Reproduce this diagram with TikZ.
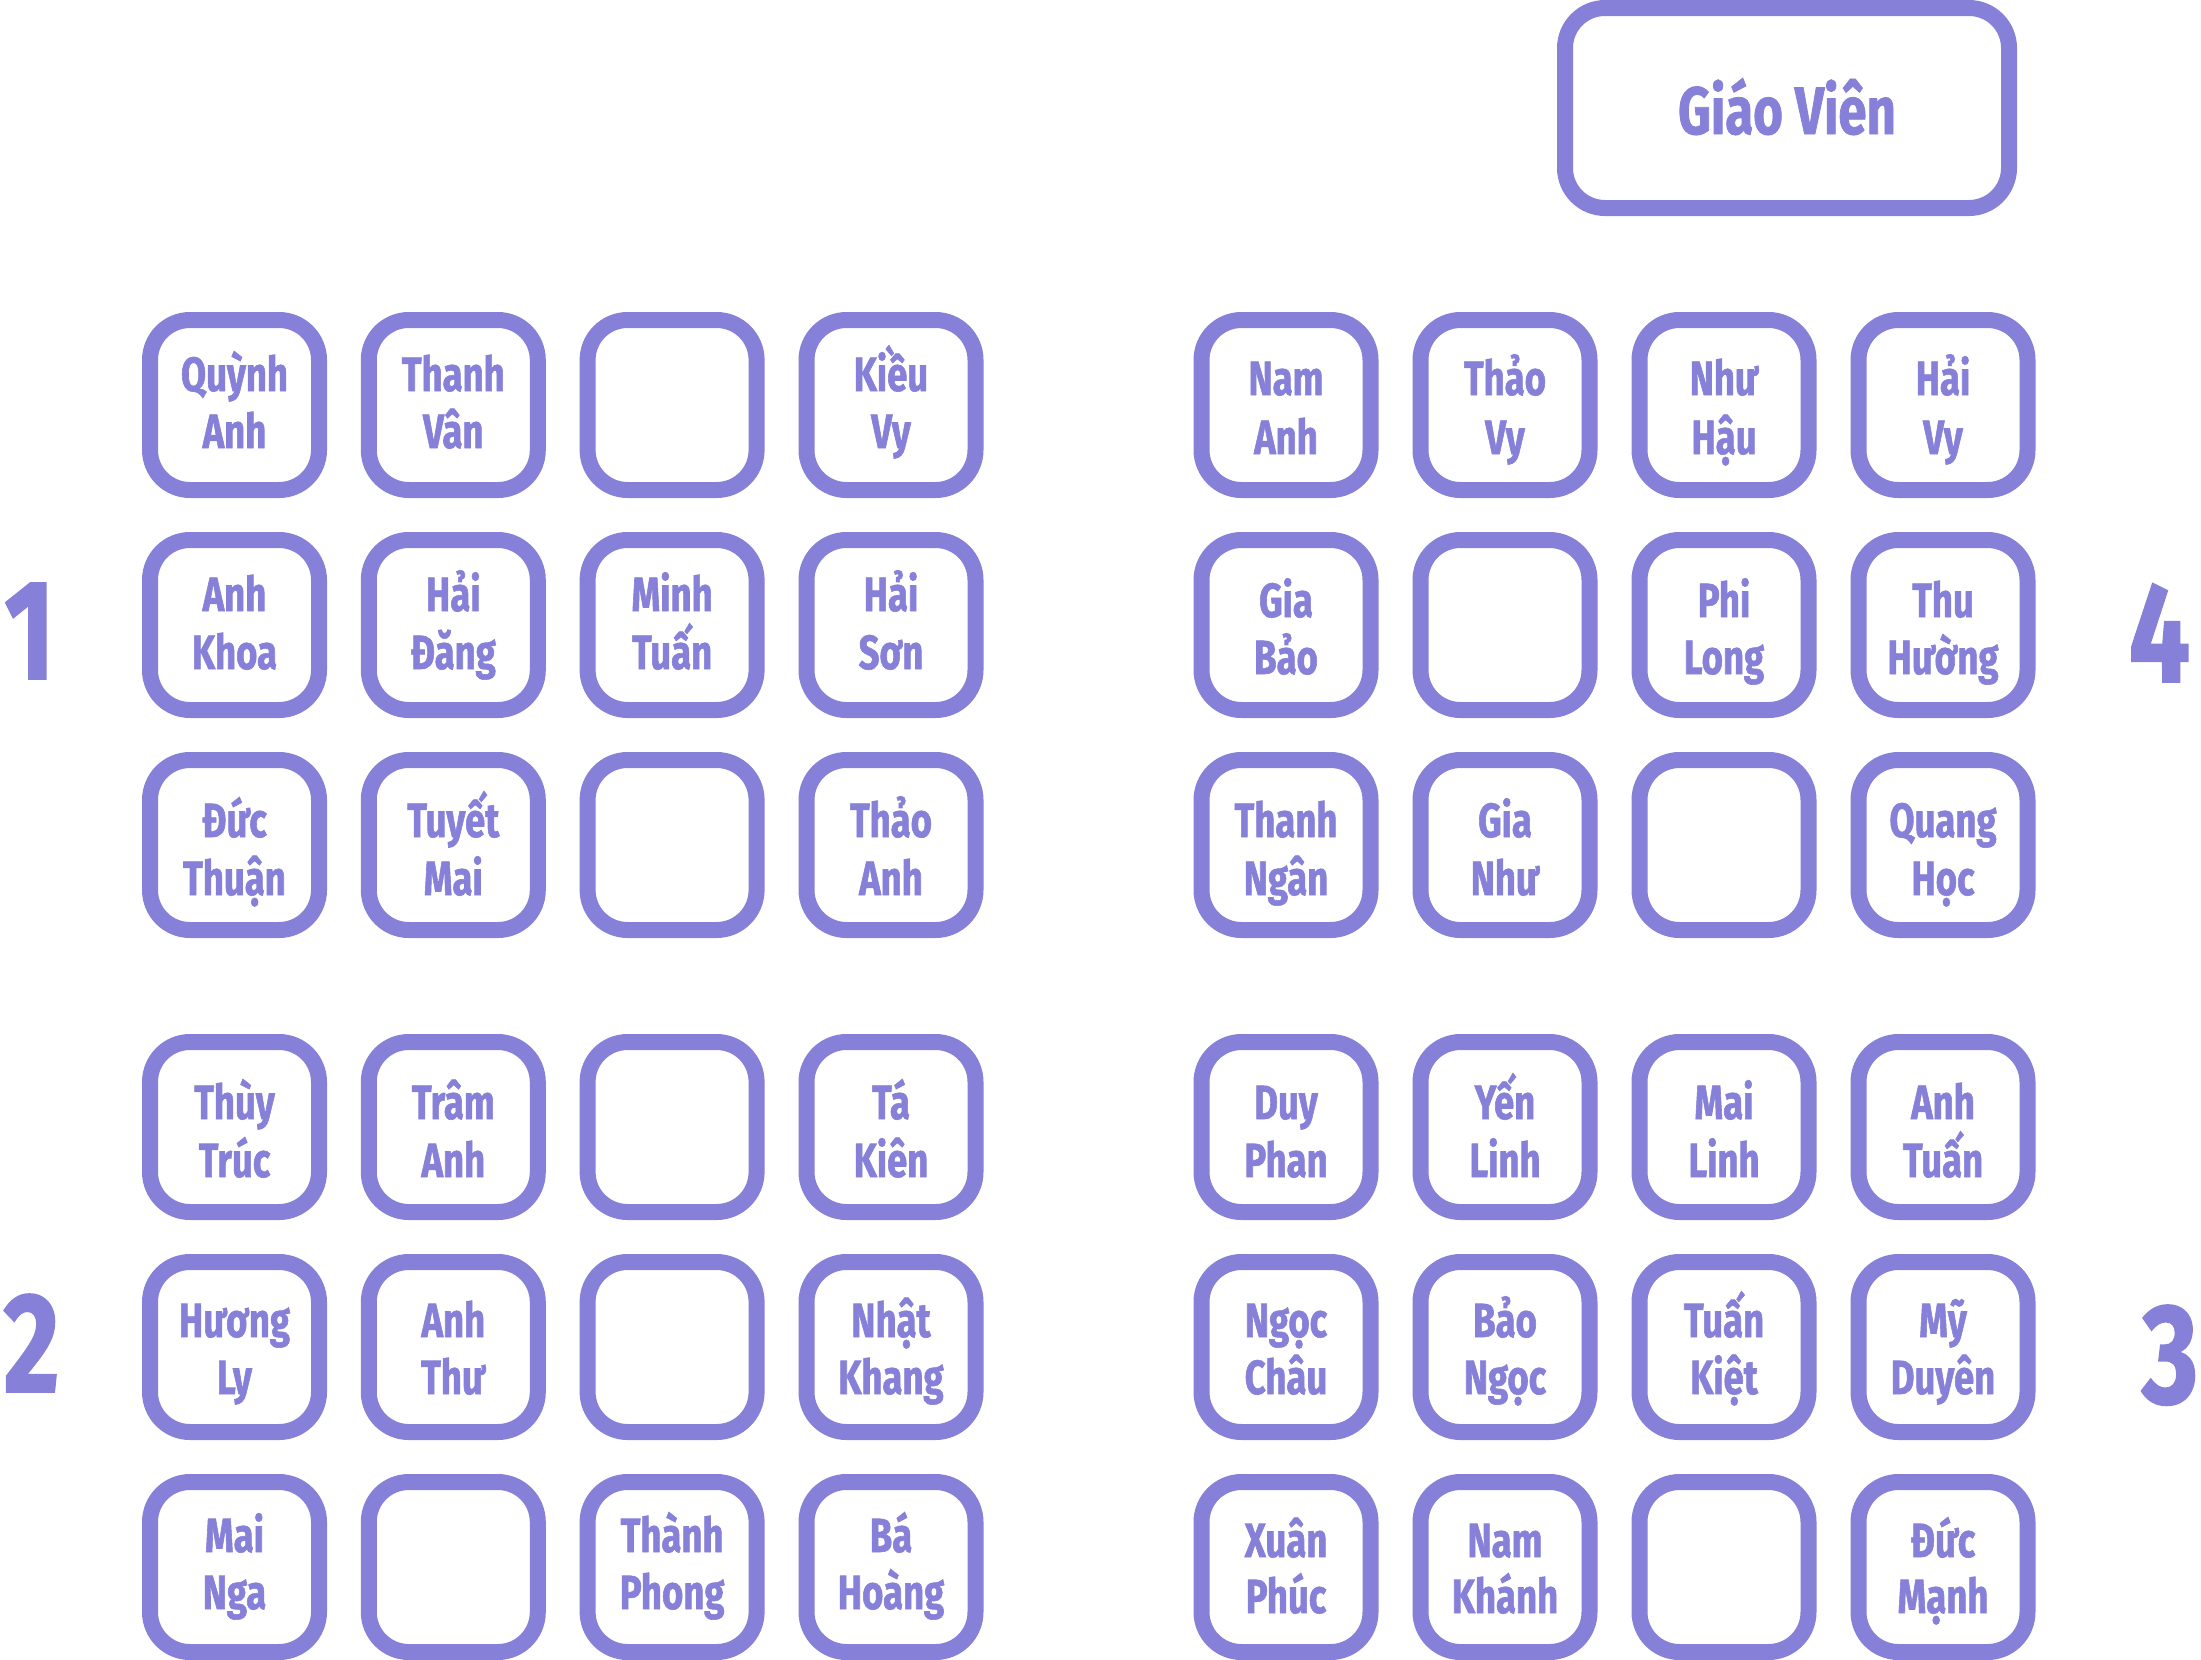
\documentclass[tikz,border=0pt]{standalone}
\usepackage{fontspec}
\newfontfamily\cf{Fira Sans}[FakeStretch=0.76,BoldFeatures={FakeBold=1.2}]
\definecolor{pp}{RGB}{134,128,216}
\newcommand\mkseat[7]{%
  \node[seat] (#1) at (#2,#3) {};
  \node[nm] (#1a) at (#2,#4) {#6};
  \node[nm] (#1b) at (#2,#5) {#7};}
\newcommand\mkempty[3]{\node[seat] (#1) at (#2,#3) {};}
\begin{document}
\begin{tikzpicture}[x=1pt,y=-1pt,
  seat/.style={draw=pp, line width=16pt, rounded corners=40pt,
    minimum width=169pt, minimum height=170pt, inner sep=0pt},
  nm/.style={text=pp, font=\cf\bfseries\fontsize{48}{58}\selectfont,
    anchor=base, inner sep=0pt},
  grp/.style={text=pp, font=\cf\bfseries\fontsize{142}{150}\selectfont,
    anchor=base, inner sep=0pt},
  teach/.style={draw=pp, line width=16pt, rounded corners=40pt,
    minimum width=444pt, minimum height=200pt, inner sep=0pt}]
\useasboundingbox (0,0) rectangle (2201,1660);
% teacher
\node[teach] (gv) at (1787,108) {};
\node[text=pp, font=\cf\bfseries\fontsize{67}{70}\selectfont, anchor=base, inner sep=0pt] (gvt) at (1787,134) {Giáo Viên};
% group numbers
\node[grp] (n1) at (29.5,679) {1};
\node[grp] (n2) at (31.5,1392) {2};
\node[grp] (n4) at (2159.5,682) {4};
\node[grp] (n3) at (2170,1403) {3};
% group 1
\mkseat{a11}{234.5}{405}{391}{448}{Quỳnh}{Anh}
\mkseat{a12}{453.3}{405}{391}{448}{Thanh}{Vân}
\mkempty{a13}{672.1}{405}
\mkseat{a14}{891}{405}{391}{448}{Kiều}{Vy}
\mkseat{a21}{234.5}{625}{611}{669}{Anh}{Khoa}
\mkseat{a22}{453.3}{625}{611}{669}{Hải}{Đăng}
\mkseat{a23}{672.1}{625}{611}{669}{Minh}{Tuấn}
\mkseat{a24}{891}{625}{611}{669}{Hải}{Sơn}
\mkseat{a31}{234.5}{845}{837}{895}{Đức}{Thuận}
\mkseat{a32}{453.3}{845}{837}{895}{Tuyết}{Mai}
\mkempty{a33}{672.1}{845}
\mkseat{a34}{891}{845}{837}{895}{Thảo}{Anh}
% group 4
\mkseat{d11}{1286}{405}{395}{454}{Nam}{Anh}
\mkseat{d12}{1505}{405}{395}{454}{Thảo}{Vy}
\mkseat{d13}{1724}{405}{395}{454}{Như}{Hậu}
\mkseat{d14}{1943}{405}{395}{454}{Hải}{Vy}
\mkseat{d21}{1286}{625}{617}{674}{Gia}{Bảo}
\mkempty{d22}{1505}{625}
\mkseat{d23}{1724}{625}{617}{674}{Phi}{Long}
\mkseat{d24}{1943}{625}{617}{674}{Thu}{Hường}
\mkseat{d31}{1286}{845}{837}{895}{Thanh}{Ngân}
\mkseat{d32}{1505}{845}{837}{895}{Gia}{Như}
\mkempty{d33}{1724}{845}
\mkseat{d34}{1943}{845}{837}{895}{Quang}{Học}
% group 2
\mkseat{b11}{234.5}{1127}{1119}{1177}{Thùy}{Trúc}
\mkseat{b12}{453.3}{1127}{1119}{1177}{Trâm}{Anh}
\mkempty{b13}{672.1}{1127}
\mkseat{b14}{891}{1127}{1119}{1177}{Tá}{Kiên}
\mkseat{b21}{234.5}{1347}{1337}{1394}{Hương}{Ly}
\mkseat{b22}{453.3}{1347}{1337}{1394}{Anh}{Thư}
\mkempty{b23}{672.1}{1347}
\mkseat{b24}{891}{1347}{1337}{1394}{Nhật}{Khang}
\mkseat{b31}{234.5}{1567}{1552}{1609}{Mai}{Nga}
\mkempty{b32}{453.3}{1567}
\mkseat{b33}{672.1}{1567}{1552}{1609}{Thành}{Phong}
\mkseat{b34}{891}{1567}{1552}{1609}{Bá}{Hoàng}
% group 3
\mkseat{c11}{1286}{1127}{1119}{1177}{Duy}{Phan}
\mkseat{c12}{1505}{1127}{1119}{1177}{Yến}{Linh}
\mkseat{c13}{1724}{1127}{1119}{1177}{Mai}{Linh}
\mkseat{c14}{1943}{1127}{1119}{1177}{Anh}{Tuấn}
\mkseat{c21}{1286}{1347}{1337}{1394}{Ngọc}{Châu}
\mkseat{c22}{1505}{1347}{1337}{1394}{Bảo}{Ngọc}
\mkseat{c23}{1724}{1347}{1337}{1394}{Tuấn}{Kiệt}
\mkseat{c24}{1943}{1347}{1337}{1394}{Mỹ}{Duyên}
\mkseat{c31}{1286}{1567}{1557}{1613}{Xuân}{Phúc}
\mkseat{c32}{1505}{1567}{1557}{1613}{Nam}{Khánh}
\mkempty{c33}{1724}{1567}
\mkseat{c34}{1943}{1567}{1557}{1613}{Đức}{Mạnh}
\end{tikzpicture}
\end{document}
